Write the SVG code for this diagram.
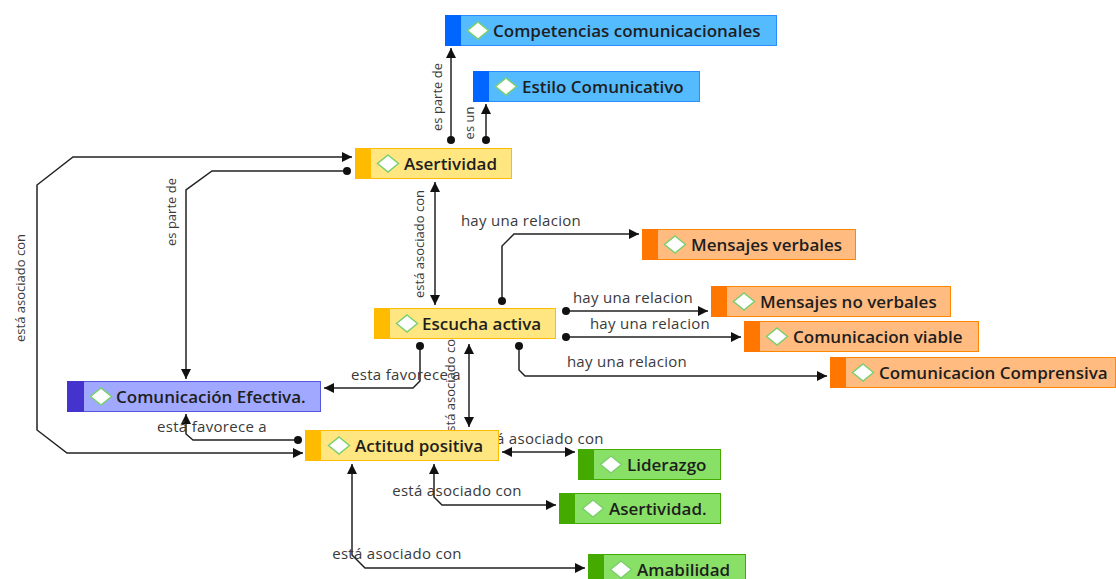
<svg xmlns="http://www.w3.org/2000/svg" width="1116" height="579" viewBox="0 0 1116 579">
<style>
.ln{fill:none;stroke:#222;stroke-width:1.5}
.lb{font-family:"Open Sans","Noto Sans",sans-serif;font-size:15px;letter-spacing:0.3px;fill:#3a3a3a;text-anchor:middle;dominant-baseline:central}
.lv{font-family:"Open Sans","Noto Sans",sans-serif;font-size:13px;fill:#3a3a3a;text-anchor:middle;dominant-baseline:central}
.nt{font-family:"Open Sans","Noto Sans",sans-serif;font-size:17px;font-weight:600;fill:#1e1e1e;dominant-baseline:central}
.dm{fill:#fff;stroke:#7ccf6e;stroke-width:1.5}
.blue .bg{fill:#55bbff;stroke:#2a8cff;stroke-width:1}.blue .st{fill:#0066ff}
.yel .bg{fill:#ffe680;stroke:#ffbb00;stroke-width:1}.yel .st{fill:#ffbb00}
.org .bg{fill:#ffbb80;stroke:#ff8800;stroke-width:1}.org .st{fill:#ff7700}
.pur .bg{fill:#a0a8ff;stroke:#5555dd;stroke-width:1}.pur .st{fill:#4433cc}
.grn .bg{fill:#88e066;stroke:#44aa00;stroke-width:1}.grn .st{fill:#44aa00}
</style>
<defs>
<marker id="ar" markerUnits="userSpaceOnUse" markerWidth="11" markerHeight="11" refX="10" refY="5.5" orient="auto-start-reverse" viewBox="0 0 11 11"><path d="M0,0.5 L10,5.5 L0,10.5 z" fill="#111"/></marker>
<marker id="dt" markerUnits="userSpaceOnUse" markerWidth="10" markerHeight="10" refX="5" refY="5" viewBox="0 0 10 10"><circle cx="5" cy="5" r="4" fill="#111"/></marker>
<path id="dia" d="M0,-8.5 L10.5,0 L0,8.5 L-10.5,0 z"/>
</defs>
<g id="connectors">
<path class="ln" d="M451,140 V48" marker-start="url(#dt)" marker-end="url(#ar)"/>
<path class="ln" d="M486,140 V104" marker-start="url(#dt)" marker-end="url(#ar)"/>
<path class="ln" d="M352,157 H73 L37,185 V430 L67,453 H303" marker-start="url(#ar)" marker-end="url(#ar)"/>
<path class="ln" d="M347,171 H212 L186,190 V379" marker-start="url(#dt)" marker-end="url(#ar)"/>
<path class="ln" d="M435,182 V305" marker-start="url(#ar)" marker-end="url(#ar)"/>
<path class="ln" d="M502,301 V246 L514,234 H639" marker-start="url(#dt)" marker-end="url(#ar)"/>
<path class="ln" d="M566,311 H708" marker-start="url(#dt)" marker-end="url(#ar)"/>
<path class="ln" d="M566,337 H741" marker-start="url(#dt)" marker-end="url(#ar)"/>
<path class="ln" d="M519,346 V370 L525,376 H827" marker-start="url(#dt)" marker-end="url(#ar)"/>
<path class="ln" d="M420,346 V381 L413,388 H324" marker-start="url(#dt)" marker-end="url(#ar)"/>
<path class="ln" d="M469,344 V427" marker-start="url(#ar)" marker-end="url(#ar)"/>
<path class="ln" d="M298,440 H193 L186,434 V414" marker-start="url(#dt)" marker-end="url(#ar)"/>
<path class="ln" d="M502,452 H575" marker-start="url(#ar)" marker-end="url(#ar)"/>
<path class="ln" d="M556,505 H442 L434,497 V464" marker-end="url(#ar)" marker-start="url(#ar)"/>
<path class="ln" d="M585,568 H365 L352,555 V464" marker-end="url(#ar)" marker-start="url(#ar)"/>
<text class="lv" transform="translate(437,97) rotate(-90)">es parte de</text>
<text class="lv" transform="translate(469,123) rotate(-90)">es un</text>
<text class="lv" transform="translate(20,288) rotate(-90)">está asociado con</text>
<text class="lv" transform="translate(171,212) rotate(-90)">es parte de</text>
<text class="lv" transform="translate(419,244) rotate(-90)">está asociado con</text>
<text class="lv" transform="translate(450,385) rotate(-90)">está asociado con</text>
<text class="lb" x="521" y="220">hay una relacion</text>
<text class="lb" x="633" y="297">hay una relacion</text>
<text class="lb" x="650" y="323">hay una relacion</text>
<text class="lb" x="627" y="361">hay una relacion</text>
<text class="lb" x="406" y="374">esta favorece a</text>
<text class="lb" x="212" y="426">está favorece a</text>
<text class="lb" x="539" y="438">está asociado con</text>
<text class="lb" x="457" y="490">está asociado con</text>
<text class="lb" x="397" y="553">está asociado con</text>
</g>
<g id="n-competencias" class="blue"><rect class="bg" x="445.5" y="15.5" width="331" height="30"/><rect class="st" x="445" y="15" width="16" height="31"/><use href="#dia" class="dm" x="478" y="30.5"/><text class="nt" x="493" y="30.5">Competencias comunicacionales</text></g>
<g id="n-estilo" class="blue"><rect class="bg" x="473.5" y="71.5" width="226" height="30"/><rect class="st" x="473" y="71" width="16" height="31"/><use href="#dia" class="dm" x="506" y="86.5"/><text class="nt" x="522" y="86.5">Estilo Comunicativo</text></g>
<g id="n-asertividad" class="yel"><rect class="bg" x="355.5" y="148.5" width="156" height="30"/><rect class="st" x="355" y="148" width="16" height="31"/><use href="#dia" class="dm" x="388" y="163.5"/><text class="nt" x="404" y="163.5">Asertividad</text></g>
<g id="n-mverbales" class="org"><rect class="bg" x="642.5" y="229.5" width="213" height="30"/><rect class="st" x="642" y="229" width="16" height="31"/><use href="#dia" class="dm" x="675" y="244.5"/><text class="nt" x="691" y="244.5">Mensajes verbales</text></g>
<g id="n-mnoverbales" class="org"><rect class="bg" x="711.5" y="286.5" width="239" height="30"/><rect class="st" x="711" y="286" width="16" height="31"/><use href="#dia" class="dm" x="744" y="301.5"/><text class="nt" x="760" y="301.5">Mensajes no verbales</text></g>
<g id="n-viable" class="org"><rect class="bg" x="744.5" y="321.5" width="234" height="30"/><rect class="st" x="744" y="321" width="16" height="31"/><use href="#dia" class="dm" x="777" y="336.5"/><text class="nt" x="793" y="336.5">Comunicacion viable</text></g>
<g id="n-comprensiva" class="org"><rect class="bg" x="830.5" y="357.5" width="285" height="30"/><rect class="st" x="830" y="357" width="16" height="31"/><use href="#dia" class="dm" x="863" y="372.5"/><text class="nt" x="879" y="372.5">Comunicacion Comprensiva</text></g>
<g id="n-escucha" class="yel"><rect class="bg" x="374.5" y="308.5" width="181" height="30"/><rect class="st" x="374" y="308" width="16" height="31"/><use href="#dia" class="dm" x="407" y="323.5"/><text class="nt" x="422" y="323.5">Escucha activa</text></g>
<g id="n-efectiva" class="pur"><rect class="bg" x="67.5" y="381.5" width="253" height="30"/><rect class="st" x="67" y="381" width="17" height="31"/><use href="#dia" class="dm" x="101" y="396.5"/><text class="nt" x="116" y="396.5">Comunicación Efectiva.</text></g>
<g id="n-actitud" class="yel"><rect class="bg" x="305.5" y="430.5" width="193" height="30"/><rect class="st" x="305" y="430" width="16" height="31"/><use href="#dia" class="dm" x="339" y="445.5"/><text class="nt" x="355" y="445.5">Actitud positiva</text></g>
<g id="n-liderazgo" class="grn"><rect class="bg" x="578.5" y="449.5" width="142" height="30"/><rect class="st" x="578" y="449" width="16" height="31"/><use href="#dia" class="dm" x="611" y="464.5"/><text class="nt" x="627" y="464.5">Liderazgo</text></g>
<g id="n-asertividad2" class="grn"><rect class="bg" x="559.5" y="493.5" width="161" height="30"/><rect class="st" x="559" y="493" width="16" height="31"/><use href="#dia" class="dm" x="593" y="508.5"/><text class="nt" x="609" y="508.5">Asertividad.</text></g>
<g id="n-amabilidad" class="grn"><rect class="bg" x="588.5" y="554.5" width="157" height="30"/><rect class="st" x="588" y="554" width="16" height="31"/><use href="#dia" class="dm" x="621" y="569.5"/><text class="nt" x="637" y="569.5">Amabilidad</text></g>
</svg>
